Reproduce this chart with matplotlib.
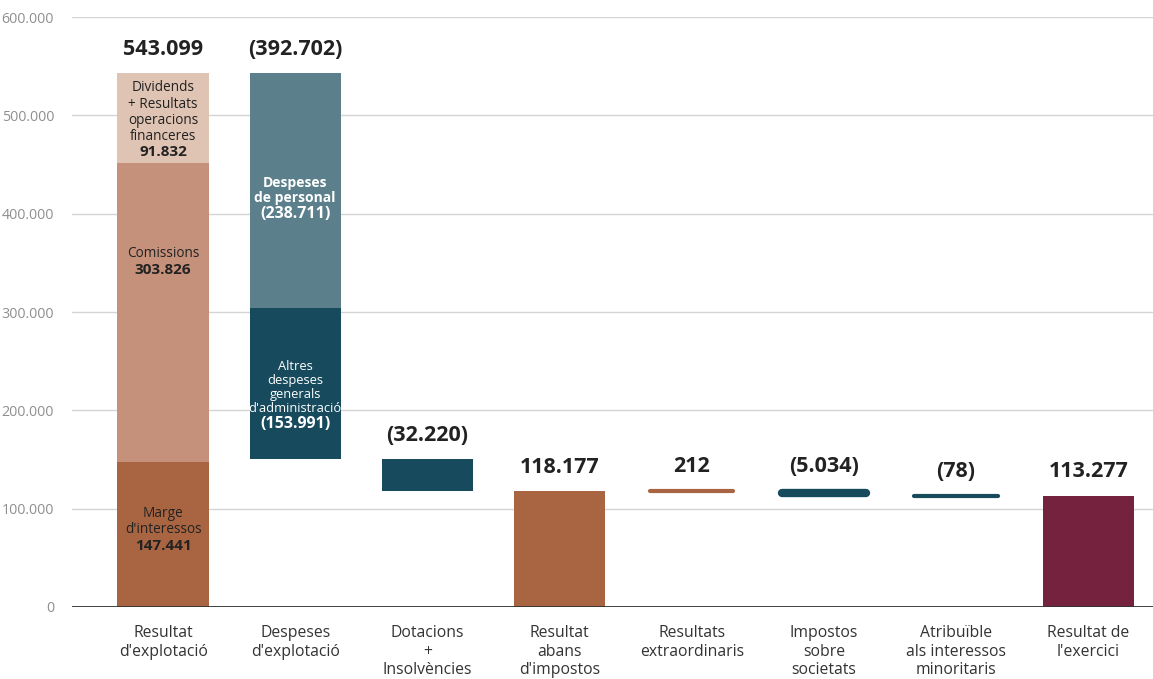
import matplotlib
matplotlib.use("Agg")
import matplotlib.pyplot as plt
import numpy as np

plt.rcParams['font.family'] = ['Open Sans', 'DejaVu Sans']

categories = ["Resultat\nd'explotació", "Despeses\nd'explotació", "Dotacions\n+\nInsolvències",
              "Resultat\nabans\nd'impostos", "Resultats\nextraordinaris", "Impostos\nsobre\nsocietats",
              "Atribuïble\nals interessos\nminoritaris", "Resultat de\nl'exercici"]

# components of the first two columns
explotacio_parts = [147441, 303826, 91832]
explotacio_names = ["Marge\nd'interessos", "Comissions", "Dividends\n+ Resultats\noperacions\nfinanceres"]
despeses_parts = [-238711, -153991]
despeses_names = ["Despeses\nde personal", "Altres\ndespeses\ngenerals\nd'administració"]

# the remaining steps
step_values = [-32220, None, 212, -5034, -78, None]   # None = subtotal
total_labels = ["543.099", "(392.702)", "(32.220)", "118.177", "212", "(5.034)", "(78)", "113.277"]
part_labels_expl = ["147.441", "303.826", "91.832"]
part_labels_desp = ["(238.711)", "(153.991)"]

yticks = [0, 100000, 200000, 300000, 400000, 500000, 600000]
ytick_labels = ["0", "100.000", "200.000", "300.000", "400.000", "500.000", "600.000"]

c_marge = "#A96542"
c_comis = "#C5917A"
c_divid = "#DFC3B3"
c_pers = "#5B7F8B"
c_dark = "#164A5C"
c_last = "#74223E"
txt_dark = "#222222"

fig = plt.figure(figsize=(11.53, 6.79), dpi=100)
ax = fig.add_axes([72/1153, 72/679, 1 - 72/1153, (607-17)/679])
ax.set_ylim(0, 600000)
ax.set_xlim(-0.689, 7.49)

W = 0.69
x = np.arange(len(categories))

# gridlines
for t in yticks[1:]:
    ax.axhline(t, color="#d4d4d4", lw=1, zorder=0)
ax.axhline(0, color="#333333", lw=1.3, zorder=3)

# column 0: stacked positive
bottom = 0
seg_info = []
for v, col, name, lab in zip(explotacio_parts, [c_marge, c_comis, c_divid], explotacio_names, part_labels_expl):
    ax.bar(x[0], v, W, bottom=bottom, color=col, zorder=2)
    seg_info.append((x[0], bottom + v / 2, name, lab, txt_dark, False))
    bottom += v
total = bottom
tops = [total]

# column 1: stacked negative from total
level = total
col1_top = level
for v, col, name, lab in zip(despeses_parts, [c_pers, c_dark], despeses_names, part_labels_desp):
    ax.bar(x[1], v, W, bottom=level, color=col, zorder=2)
    seg_info.append((x[1], level + v / 2, name, lab, "white", True))
    level += v
tops.append(col1_top)

# remaining columns
step_colors = [c_dark, c_marge, c_marge, c_dark, c_dark, c_last]
for i, (v, col) in enumerate(zip(step_values, step_colors)):
    xi = x[i + 2]
    if v is None:
        ax.bar(xi, level, W, bottom=0, color=col, zorder=2)
        tops.append(level)
    else:
        if abs(v) >= 20000:
            ax.bar(xi, v, W, bottom=level, color=col, zorder=2)
        else:
            lw = 6 if abs(v) > 1000 else 3
            ax.hlines(level + v / 2, xi - W / 2 + 0.03, xi + W / 2 - 0.03, color=col,
                      lw=lw, capstyle="round", zorder=2)
        tops.append(max(level, level + v))
        level += v

# value labels above
for xi, t, lab in zip(x, tops, total_labels):
    ax.annotate(lab, (xi, t), xytext=(0, 17), textcoords="offset points",
                ha="center", va="center", fontsize=15.5, fontweight="bold", color=txt_dark)

# inside labels: (offset in points of the name/number boundary from segment centre)
offsets = [-3, 36, -19.5, -11.5, -23.5]
for (xi, yc, name, lab, tc, white), dy in zip(seg_info, offsets):
    if white and name.startswith("Despeses"):
        nw, nsize = "bold", 10
    elif white:
        nw, nsize = "normal", 9.3
    else:
        nw, nsize = "normal", 9.8
    ax.annotate(name, (xi, yc), xytext=(0, dy + 1), textcoords="offset points",
                ha="center", va="bottom", fontsize=nsize, fontweight=nw, color=tc,
                linespacing=1.1)
    ax.annotate(lab, (xi, yc), xytext=(0, dy), textcoords="offset points",
                ha="center", va="top", fontsize=11.5 if white else 11,
                fontweight="bold", color=tc)

ax.set_yticks(yticks)
ax.set_yticklabels(ytick_labels, fontsize=10.3, color="#8f8f8f")
ax.set_xticks(x)
ax.set_xticklabels(categories, fontsize=11.3, color="#333333", linespacing=1.22)
ax.tick_params(axis="y", length=0, pad=13)
ax.tick_params(axis="x", length=0, pad=13)
for s in ax.spines.values():
    s.set_visible(False)

fig.savefig("out.png", dpi=100)
